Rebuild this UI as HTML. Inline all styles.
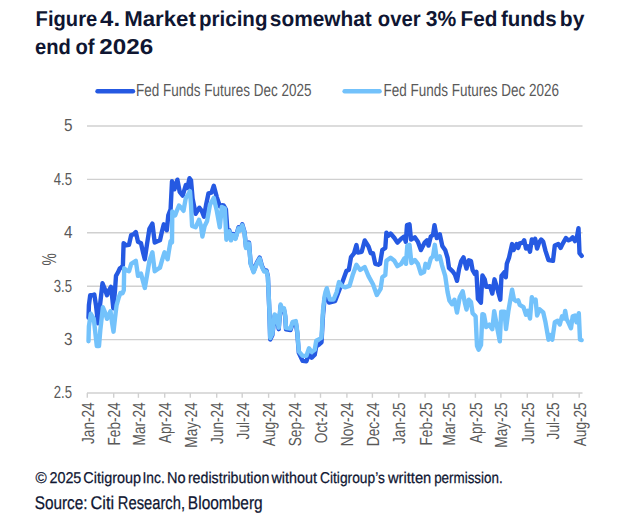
<!DOCTYPE html>
<html><head><meta charset="utf-8"><title>Figure 4</title>
<style>
html,body{margin:0;padding:0;background:#fff}
svg{display:block}
text{font-family:"Liberation Sans",sans-serif;text-rendering:geometricPrecision}
.t{font-weight:bold;font-size:21.5px;fill:#0f1632}
.g{font-size:17.5px;fill:#595959}
.f{fill:#0f1632;stroke:#0f1632;stroke-width:.25px}
</style></head><body>
<svg width="617" height="528" viewBox="0 0 617 528">
<rect width="617" height="528" fill="#fff"/>
<text class="t" y="25.7"><tspan x="35.62" textLength="61.60" lengthAdjust="spacingAndGlyphs">Figure</tspan> <tspan x="100.09" textLength="19.96" lengthAdjust="spacingAndGlyphs">4.</tspan> <tspan x="124.19" textLength="71.65" lengthAdjust="spacingAndGlyphs">Market</tspan> <tspan x="198.97" textLength="68.46" lengthAdjust="spacingAndGlyphs">pricing</tspan> <tspan x="269.86" textLength="101.95" lengthAdjust="spacingAndGlyphs">somewhat</tspan> <tspan x="377.82" textLength="42.75" lengthAdjust="spacingAndGlyphs">over</tspan> <tspan x="425.80" textLength="30.50" lengthAdjust="spacingAndGlyphs">3%</tspan> <tspan x="460.50" textLength="36.98" lengthAdjust="spacingAndGlyphs">Fed</tspan> <tspan x="500.90" textLength="55.74" lengthAdjust="spacingAndGlyphs">funds</tspan> <tspan x="559.79" textLength="24.57" lengthAdjust="spacingAndGlyphs">by</tspan></text>
<text class="t" y="53.8"><tspan x="35.10" textLength="35.80" lengthAdjust="spacingAndGlyphs">end</tspan> <tspan x="75.44" textLength="19.08" lengthAdjust="spacingAndGlyphs">of</tspan> <tspan x="99.35" textLength="53.90" lengthAdjust="spacingAndGlyphs">2026</tspan></text>
<g stroke-linecap="round" stroke-width="4.4" fill="none">
<line x1="97.5" x2="133" y1="91.2" y2="91.2" stroke="#2559e2"/>
<line x1="344.6" x2="379.6" y1="91.2" y2="91.2" stroke="#73c2fb"/>
</g>
<g class="g">
<text x="136.1" y="95.9" textLength="175.4" lengthAdjust="spacingAndGlyphs">Fed Funds Futures Dec 2025</text>
<text x="383.6" y="95.9" textLength="175.4" lengthAdjust="spacingAndGlyphs">Fed Funds Futures Dec 2026</text>
</g>
<g stroke="#d0d0d0" stroke-width="1.4" fill="none"><line x1="87" x2="582.5" y1="126.0" y2="126.0"/><line x1="87" x2="582.5" y1="179.4" y2="179.4"/><line x1="87" x2="582.5" y1="232.8" y2="232.8"/><line x1="87" x2="582.5" y1="286.2" y2="286.2"/><line x1="87" x2="582.5" y1="339.6" y2="339.6"/><line x1="87" x2="582.5" y1="393.0" y2="393.0"/> <line stroke-width="1.4" x1="87.3" x2="87.3" y1="393" y2="397.8"/><line stroke-width="1.4" x1="113.7" x2="113.7" y1="393" y2="397.8"/><line stroke-width="1.4" x1="138.4" x2="138.4" y1="393" y2="397.8"/><line stroke-width="1.4" x1="164.7" x2="164.7" y1="393" y2="397.8"/><line stroke-width="1.4" x1="190.3" x2="190.3" y1="393" y2="397.8"/><line stroke-width="1.4" x1="216.7" x2="216.7" y1="393" y2="397.8"/><line stroke-width="1.4" x1="242.2" x2="242.2" y1="393" y2="397.8"/><line stroke-width="1.4" x1="268.6" x2="268.6" y1="393" y2="397.8"/><line stroke-width="1.4" x1="294.9" x2="294.9" y1="393" y2="397.8"/><line stroke-width="1.4" x1="320.5" x2="320.5" y1="393" y2="397.8"/><line stroke-width="1.4" x1="346.9" x2="346.9" y1="393" y2="397.8"/><line stroke-width="1.4" x1="372.4" x2="372.4" y1="393" y2="397.8"/><line stroke-width="1.4" x1="398.8" x2="398.8" y1="393" y2="397.8"/><line stroke-width="1.4" x1="425.1" x2="425.1" y1="393" y2="397.8"/><line stroke-width="1.4" x1="449.0" x2="449.0" y1="393" y2="397.8"/><line stroke-width="1.4" x1="475.4" x2="475.4" y1="393" y2="397.8"/><line stroke-width="1.4" x1="500.9" x2="500.9" y1="393" y2="397.8"/><line stroke-width="1.4" x1="527.3" x2="527.3" y1="393" y2="397.8"/><line stroke-width="1.4" x1="552.8" x2="552.8" y1="393" y2="397.8"/><line stroke-width="1.4" x1="579.2" x2="579.2" y1="393" y2="397.8"/></g>
<g class="g"><text x="64.0" y="131.4" textLength="8.5" lengthAdjust="spacingAndGlyphs">5</text><text x="53.7" y="184.8" textLength="18.3" lengthAdjust="spacingAndGlyphs">4.5</text><text x="64.0" y="238.2" textLength="8.5" lengthAdjust="spacingAndGlyphs">4</text><text x="53.7" y="291.6" textLength="18.3" lengthAdjust="spacingAndGlyphs">3.5</text><text x="64.0" y="345.0" textLength="8.5" lengthAdjust="spacingAndGlyphs">3</text><text x="53.7" y="398.4" textLength="18.3" lengthAdjust="spacingAndGlyphs">2.5</text>
<text transform="translate(55.8,265.4) rotate(-90)" font-size="20" textLength="12.3" lengthAdjust="spacingAndGlyphs">%</text>
<text transform="translate(93.7,402.3) rotate(-90) scale(0.778,1)" text-anchor="end">Jan-24</text><text transform="translate(120.1,402.3) rotate(-90) scale(0.778,1)" text-anchor="end">Feb-24</text><text transform="translate(144.8,402.3) rotate(-90) scale(0.778,1)" text-anchor="end">Mar-24</text><text transform="translate(171.1,402.3) rotate(-90) scale(0.778,1)" text-anchor="end">Apr-24</text><text transform="translate(196.7,402.3) rotate(-90) scale(0.778,1)" text-anchor="end">May-24</text><text transform="translate(223.1,402.3) rotate(-90) scale(0.778,1)" text-anchor="end">Jun-24</text><text transform="translate(248.6,402.3) rotate(-90) scale(0.778,1)" text-anchor="end">Jul-24</text><text transform="translate(275.0,402.3) rotate(-90) scale(0.778,1)" text-anchor="end">Aug-24</text><text transform="translate(301.3,402.3) rotate(-90) scale(0.778,1)" text-anchor="end">Sep-24</text><text transform="translate(326.9,402.3) rotate(-90) scale(0.778,1)" text-anchor="end">Oct-24</text><text transform="translate(353.3,402.3) rotate(-90) scale(0.778,1)" text-anchor="end">Nov-24</text><text transform="translate(378.8,402.3) rotate(-90) scale(0.778,1)" text-anchor="end">Dec-24</text><text transform="translate(405.2,402.3) rotate(-90) scale(0.778,1)" text-anchor="end">Jan-25</text><text transform="translate(431.5,402.3) rotate(-90) scale(0.778,1)" text-anchor="end">Feb-25</text><text transform="translate(455.4,402.3) rotate(-90) scale(0.778,1)" text-anchor="end">Mar-25</text><text transform="translate(481.8,402.3) rotate(-90) scale(0.778,1)" text-anchor="end">Apr-25</text><text transform="translate(507.3,402.3) rotate(-90) scale(0.778,1)" text-anchor="end">May-25</text><text transform="translate(533.7,402.3) rotate(-90) scale(0.778,1)" text-anchor="end">Jun-25</text><text transform="translate(559.2,402.3) rotate(-90) scale(0.778,1)" text-anchor="end">Jul-25</text><text transform="translate(585.6,402.3) rotate(-90) scale(0.778,1)" text-anchor="end">Aug-25</text></g>
<g fill="none" stroke-width="4.4" stroke-linejoin="round" stroke-linecap="round">
<polyline stroke="#2559e2" points="88.5,317.8 88.9,305.3 90.2,295.3 92.0,295.3 94.3,294.5 96.0,305.3 98.0,323.3 100.0,305.3 102.5,283.3 104.5,288.3 107.0,295.3 109.0,290.3 111.0,286.8 112.5,300.3 113.3,308.3 115.0,290.3 116.0,275.9 118.0,272.3 119.8,268.3 121.5,267.3 122.9,265.3 123.6,243.3 126.0,245.3 129.0,244.8 131.2,235.0 133.5,234.3 135.8,232.0 138.0,241.8 141.0,243.3 143.0,252.3 144.8,259.3 147.0,244.3 149.4,228.9 152.4,223.6 154.7,242.6 157.5,241.3 160.0,240.3 162.0,231.3 163.8,224.3 166.8,230.3 168.3,215.3 170.6,209.3 172.0,181.3 174.4,189.3 177.4,179.7 179.7,191.8 182.7,195.6 185.8,185.0 187.3,188.0 189.5,178.2 191.0,180.3 192.6,198.6 195.6,213.8 199.4,207.7 201.7,210.8 204.0,216.8 206.0,205.3 208.5,193.3 211.5,192.6 213.8,185.8 216.8,197.1 219.8,206.3 222.0,205.3 223.6,205.5 225.9,209.3 227.4,230.3 229.4,230.3 231.0,239.3 233.2,234.1 235.5,237.9 238.5,227.3 240.0,229.6 242.3,224.3 244.5,231.9 246.0,247.0 249.0,242.5 250.6,262.9 253.6,271.3 256.7,262.9 259.7,257.6 262.0,266.0 264.2,270.5 266.5,270.5 267.9,276.3 269.4,312.3 270.2,339.5 272.4,335.0 274.6,316.0 276.6,317.8 278.7,329.2 280.6,306.0 282.4,311.2 284.0,309.8 285.2,316.5 286.0,329.4 290.5,330.1 292.7,323.3 295.8,322.6 297.3,333.2 298.8,352.8 302.6,360.9 306.4,361.3 309.0,353.8 311.7,357.8 314.7,354.8 316.2,346.3 319.2,344.3 321.5,342.3 323.0,315.3 324.5,299.3 325.5,295.3 326.8,291.3 329.0,302.6 335.0,301.1 339.7,288.9 342.7,281.3 346.5,270.8 348.8,270.0 351.0,257.1 354.0,253.3 356.4,245.0 357.9,252.6 361.7,251.8 364.7,240.5 368.5,246.5 370.8,253.3 373.0,253.3 375.3,263.9 378.3,264.7 380.0,263.8 382.3,250.1 385.3,247.9 386.4,232.7 388.3,235.8 390.6,233.5 394.4,238.0 397.4,242.6 401.2,238.8 404.2,236.5 405.8,241.8 407.0,225.1 409.5,224.3 411.0,239.5 414.8,237.3 417.9,241.8 420.9,250.1 424.7,242.6 427.0,240.3 428.5,245.6 430.8,236.5 433.0,235.0 434.5,225.1 436.8,238.0 439.8,234.3 442.3,245.9 445.3,250.3 447.6,258.0 449.0,267.9 452.9,271.7 455.0,274.7 457.0,280.8 459.0,269.3 461.2,261.1 463.5,257.3 466.5,268.6 468.8,260.3 471.0,261.1 472.6,270.1 474.8,273.9 476.4,271.7 477.9,298.9 480.9,302.7 482.4,275.5 484.7,279.3 486.2,286.8 490.0,286.1 492.3,293.6 494.5,279.3 496.8,286.8 500.3,299.7 501.5,275.9 504.5,272.1 505.8,277.3 506.8,263.8 509.0,257.7 512.1,244.1 513.6,250.1 516.7,244.1 518.2,247.9 519.7,243.3 522.7,242.6 524.2,240.3 526.0,248.6 528.0,246.3 530.0,251.7 531.8,239.5 533.6,242.6 535.2,238.8 537.1,248.6 539.1,242.6 541.2,239.5 543.2,241.8 545.5,250.9 548.5,260.0 553.0,260.8 554.8,245.6 558.3,244.1 560.6,247.9 562.9,243.3 565.9,238.0 568.2,240.3 570.5,239.5 572.7,237.3 575.0,241.1 576.5,239.5 578.5,228.2 579.5,253.2 581.7,255.9"/>
<polyline stroke="#73c2fb" points="88.5,341.3 88.9,326.3 90.8,313.8 93.8,318.8 95.6,335.3 96.8,346.1 99.0,346.1 100.3,330.3 102.9,307.3 105.0,312.3 107.0,318.8 110.5,311.3 112.0,322.3 113.5,331.7 115.0,318.3 116.6,305.1 118.5,298.3 120.4,293.0 122.6,293.3 123.8,290.3 124.2,268.3 126.5,270.3 129.0,271.3 131.2,263.8 133.5,262.3 135.8,260.8 138.0,275.9 141.0,273.6 143.0,281.3 144.8,288.0 147.0,275.3 149.4,260.8 152.4,252.3 154.7,271.3 157.5,269.3 160.0,267.6 162.3,259.3 164.5,252.3 167.6,259.3 169.0,250.3 170.6,241.1 172.0,242.3 172.3,211.5 175.2,215.3 177.0,210.3 179.0,205.5 181.2,207.7 183.5,210.8 185.8,197.9 188.0,194.8 190.0,191.1 191.0,204.7 192.1,225.9 195.6,227.3 199.0,219.8 201.0,225.9 202.4,236.5 204.7,225.9 207.0,221.3 210.0,204.7 213.8,197.9 216.8,210.8 219.8,227.4 221.8,207.0 224.8,208.5 226.4,239.7 229.4,231.3 231.0,240.3 233.2,235.1 235.5,238.9 238.5,228.3 240.0,230.6 242.3,225.3 244.5,232.9 246.0,248.0 249.0,243.5 250.6,263.9 253.6,272.3 256.7,263.9 259.7,258.6 262.0,267.0 264.2,271.5 266.5,271.5 267.9,277.3 269.4,310.8 270.2,338.0 272.4,333.5 274.6,314.5 276.6,316.3 278.7,327.7 280.6,304.5 282.4,309.7 284.0,308.3 285.2,315.0 286.0,327.9 290.5,328.6 292.7,321.8 295.8,321.1 297.3,331.7 298.8,351.3 302.6,355.9 306.4,355.9 309.0,348.3 311.7,352.1 314.7,349.8 316.2,340.8 319.2,339.3 321.5,337.7 323.0,310.3 324.5,296.8 325.5,292.0 326.8,288.2 329.8,299.5 333.6,299.5 336.7,292.0 339.0,282.1 342.0,285.9 345.0,287.3 349.5,285.9 352.6,275.3 356.4,264.7 360.2,270.0 364.7,267.0 368.5,276.1 373.0,284.3 376.8,295.0 380.6,288.9 382.3,277.3 385.3,275.1 386.4,260.8 390.6,257.7 394.4,260.8 397.4,266.1 401.2,263.8 404.2,258.5 406.0,263.8 407.3,245.6 409.5,244.8 411.4,263.0 414.8,260.0 417.9,263.8 420.9,273.6 424.0,272.1 425.5,263.8 428.2,267.6 430.8,258.5 433.0,256.3 434.8,244.8 436.8,259.3 439.8,256.3 442.0,265.3 445.2,275.9 447.6,292.3 449.4,300.5 452.0,304.3 454.4,299.7 457.0,312.6 459.7,297.3 462.7,291.3 465.0,303.5 466.5,309.5 468.8,299.7 471.0,302.0 472.6,313.3 475.6,316.3 477.0,345.9 478.6,349.7 481.0,345.1 482.4,314.1 484.0,314.8 486.2,327.0 489.2,324.7 492.3,329.3 494.2,311.1 496.8,325.5 499.8,341.3 501.2,311.7 504.5,311.7 506.0,329.1 508.3,311.7 510.6,298.0 512.1,289.7 514.0,299.5 516.0,301.1 518.2,300.3 519.7,304.8 523.5,307.1 526.0,314.7 528.0,310.9 530.0,318.5 531.8,297.3 533.6,301.1 535.6,299.5 537.1,315.5 539.7,309.3 543.2,312.3 545.5,322.3 548.5,339.7 550.3,335.1 552.3,339.7 554.8,322.3 557.6,320.8 559.8,324.5 562.0,316.3 564.0,318.5 565.2,310.9 566.7,319.3 569.0,323.8 571.0,328.3 572.7,316.3 575.0,315.5 576.5,322.3 578.8,313.2 580.0,339.7 581.6,340.1"/>
</g>
<text class="f" y="482.9" font-size="15.6"><tspan x="35.62" textLength="11.22" lengthAdjust="spacingAndGlyphs">©</tspan> <tspan x="49.41" textLength="31.97" lengthAdjust="spacingAndGlyphs">2025</tspan> <tspan x="83.34" textLength="57.71" lengthAdjust="spacingAndGlyphs">Citigroup</tspan> <tspan x="142.42" textLength="22.32" lengthAdjust="spacingAndGlyphs">Inc.</tspan> <tspan x="167.03" textLength="18.56" lengthAdjust="spacingAndGlyphs">No</tspan> <tspan x="187.88" textLength="81.44" lengthAdjust="spacingAndGlyphs">redistribution</tspan> <tspan x="271.43" textLength="45.62" lengthAdjust="spacingAndGlyphs">without</tspan> <tspan x="320.02" textLength="64.85" lengthAdjust="spacingAndGlyphs">Citigroup’s</tspan> <tspan x="387.99" textLength="43.29" lengthAdjust="spacingAndGlyphs">written</tspan> <tspan x="434.16" textLength="68.50" lengthAdjust="spacingAndGlyphs">permission.</tspan></text>
<text class="f" y="508.9" font-size="18.4"><tspan x="34.67" textLength="52.93" lengthAdjust="spacingAndGlyphs">Source:</tspan> <tspan x="90.54" textLength="23.64" lengthAdjust="spacingAndGlyphs">Citi</tspan> <tspan x="117.78" textLength="67.24" lengthAdjust="spacingAndGlyphs">Research,</tspan> <tspan x="187.87" textLength="74.87" lengthAdjust="spacingAndGlyphs">Bloomberg</tspan></text>
</svg>
</body></html>
